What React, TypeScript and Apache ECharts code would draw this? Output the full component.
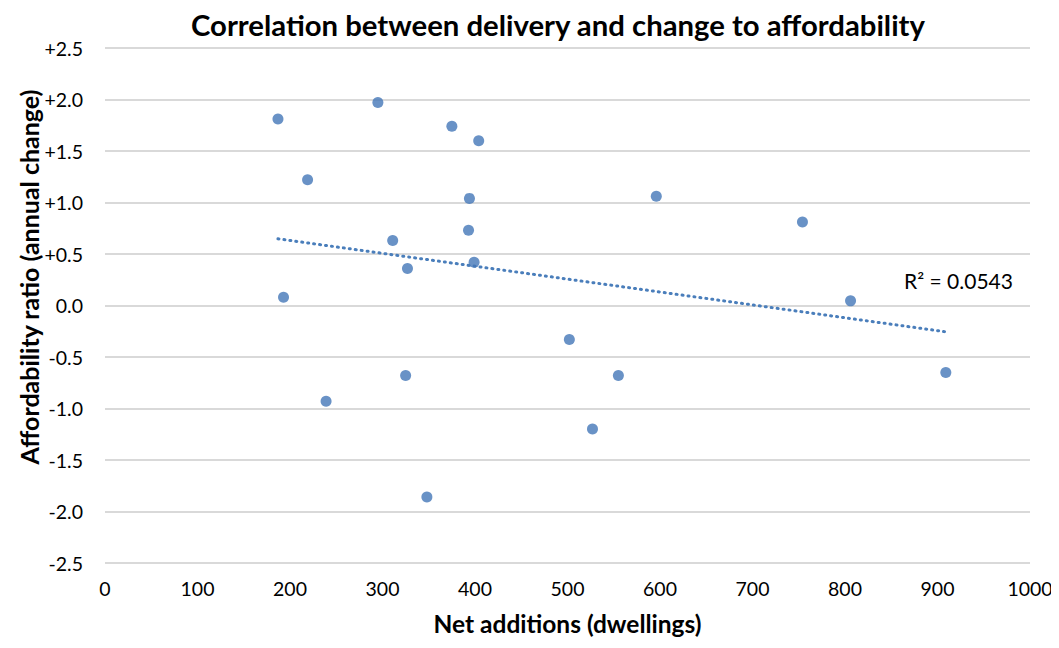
import React, { useEffect, useRef } from "react";
import * as echarts from "echarts";

const netAdditions = [187, 295, 375, 404, 219, 394, 596, 754, 311, 393, 327, 399, 193, 806, 502, 555, 325, 909, 239, 527, 348];
const affordabilityChange = [1.81, 1.97, 1.74, 1.6, 1.22, 1.04, 1.06, 0.81, 0.63, 0.73, 0.36, 0.42, 0.08, 0.045, -0.33, -0.68, -0.68, -0.65, -0.93, -1.2, -1.86];
const rSquaredLabel = "R² = 0.0543";

function regression(xs: number[], ys: number[]) {
  const n = xs.length;
  const mx = xs.reduce((a, b) => a + b, 0) / n;
  const my = ys.reduce((a, b) => a + b, 0) / n;
  let sxy = 0, sxx = 0;
  for (let i = 0; i < n; i++) {
    sxy += (xs[i] - mx) * (ys[i] - my);
    sxx += (xs[i] - mx) * (xs[i] - mx);
  }
  const slope = sxy / sxx;
  return { slope, intercept: my - slope * mx };
}

export default function App() {
  const ref = useRef<HTMLDivElement>(null);
  useEffect(() => {
    const chart = echarts.init(ref.current!, null, { renderer: "svg" });
    const { slope, intercept } = regression(netAdditions, affordabilityChange);
    const xMin = Math.min(...netAdditions);
    const xMax = Math.max(...netAdditions);
    const font = "Lato, 'Open Sans', sans-serif";
    chart.setOption({
      animation: false,
      textStyle: { fontFamily: font },
      title: {
        text: "Correlation between delivery and change to affordability",
        left: 186,
        top: 5,
        textStyle: { fontFamily: font, fontSize: 29.3, fontWeight: "bold", color: "#000" },
      },
      grid: { left: 105, right: 29, top: 48, bottom: 85 },
      xAxis: {
        type: "value",
        min: 0,
        max: 1000,
        interval: 100,
        name: "Net additions (dwellings)",
        nameLocation: "middle",
        nameGap: 48,
        nameTextStyle: { fontFamily: font, fontSize: 24.5, fontWeight: "bold", color: "#000" },
        axisLine: { show: false },
        axisTick: { show: false },
        splitLine: { show: false },
        axisLabel: {
          fontFamily: font,
          fontSize: 19.5,
          color: "#000",
          margin: 15,
          formatter: (v: number) => String(v),
        },
      },
      yAxis: {
        type: "value",
        min: -2.5,
        max: 2.5,
        interval: 0.5,
        axisLine: { show: false },
        axisTick: { show: false },
        splitLine: { lineStyle: { color: "#d9d9d9", width: 2 } },
        axisLabel: {
          fontFamily: font,
          fontSize: 19.5,
          color: "#000",
          margin: 22,
          formatter: (v: number) => (v > 0 ? "+" + v.toFixed(1) : v.toFixed(1)),
        },
      },
      series: [
        {
          type: "line",
          data: [
            [xMin, intercept + slope * xMin],
            [xMax, intercept + slope * xMax],
          ],
          showSymbol: false,
          symbol: "none",
          lineStyle: { color: "#4a7ebb", width: 3, type: [1, 5], cap: "round" },
          z: 1,
        },
        {
          type: "scatter",
          data: netAdditions.map((x, i) => [x, affordabilityChange[i]]),
          symbol: "circle",
          symbolSize: 11,
          itemStyle: { color: "#4477b8" },
          z: 2,
        },
      ],
      graphic: [
        {
          type: "text",
          left: 904,
          top: 270,
          style: { text: rSquaredLabel, font: `21px ${font}`, fill: "#000" },
        },
        {
          type: "text",
          x: 29,
          y: 277,
          rotation: Math.PI / 2,
          style: {
            text: "Affordability ratio (annual change)",
            font: `bold 25px ${font}`,
            fill: "#000",
            align: "center",
            verticalAlign: "middle",
          },
        },
      ],
    });
    return () => chart.dispose();
  }, []);
  return <div ref={ref} style={{ width: 1059, height: 648, margin: -8 }} />;
}
